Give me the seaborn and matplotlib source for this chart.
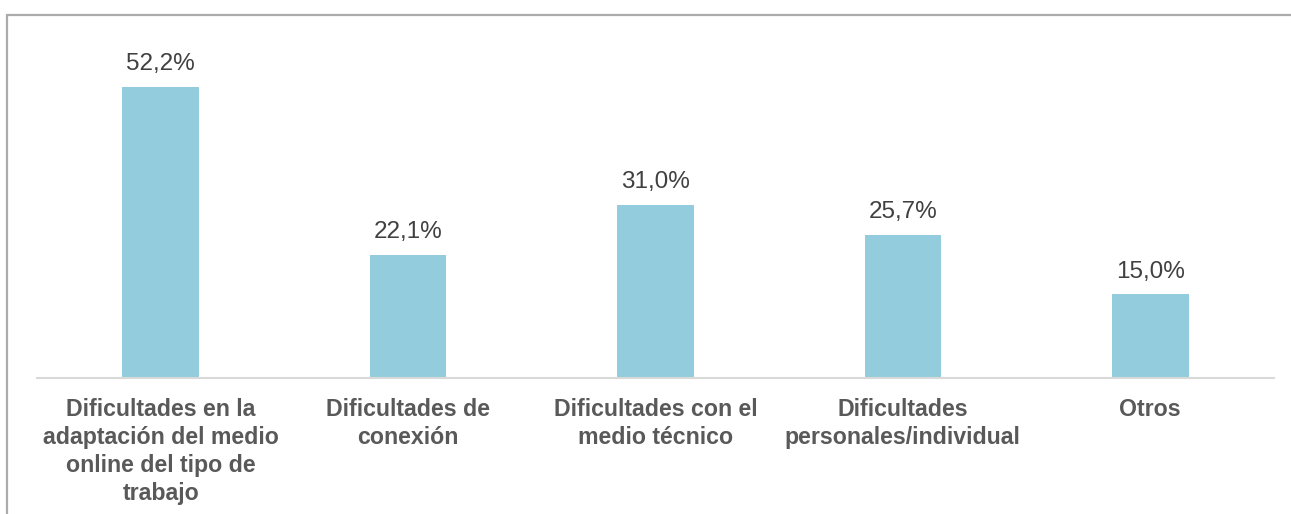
import matplotlib
matplotlib.use("Agg")
import matplotlib.pyplot as plt
from matplotlib.patches import Rectangle
import seaborn as sns
import pandas as pd

categories = [
    "Dificultades en la\nadaptación del medio\nonline del tipo de\ntrabajo",
    "Dificultades de\nconexión",
    "Dificultades con el\nmedio técnico",
    "Dificultades\npersonales/individual",
    "Otros",
]
values = [52.2, 22.1, 31.0, 25.7, 15.0]
value_labels = ["52,2%", "22,1%", "31,0%", "25,7%", "15,0%"]

sns.set_theme(style="white")
plt.rcParams['font.family'] = ['Liberation Sans', 'DejaVu Sans']

W, H = 1291, 514
fig = plt.figure(figsize=(W / 100, H / 100), dpi=100)
ax = fig.add_axes([37 / W, (H - 378) / H, (1274 - 37) / W, (378 - 15) / H])

df = pd.DataFrame({"cat": categories, "val": values})
sns.barplot(data=df, x="cat", y="val", color="#93CDDD", width=0.31,
            saturation=1, ax=ax, edgecolor="none")

ax.set_xlim(-0.5, 4.5)
ax.set_ylim(0, 363 / 5.575)
ax.bar_label(ax.containers[0], labels=value_labels, padding=8.5,
             fontsize=17.5, color="#404040")

for s in ["top", "right", "left"]:
    ax.spines[s].set_visible(False)
ax.spines["bottom"].set_color("#D9D9D9")
ax.spines["bottom"].set_linewidth(1.5)
ax.set_yticks([])
ax.set_xlabel("")
ax.set_ylabel("")
ax.tick_params(axis="x", length=0, pad=14.5)
ax.set_xticks(range(len(categories)))
ax.set_xticklabels(categories, fontsize=16.7, fontweight="bold",
                   color="#595959", linespacing=1.27)

fig.add_artist(Rectangle((7 / W, -0.1), 2, (H - 15) / H + 0.1,
                         transform=fig.transFigure, fill=False,
                         edgecolor="#ABABAB", linewidth=1.6))

fig.savefig("out.png", dpi=100)
